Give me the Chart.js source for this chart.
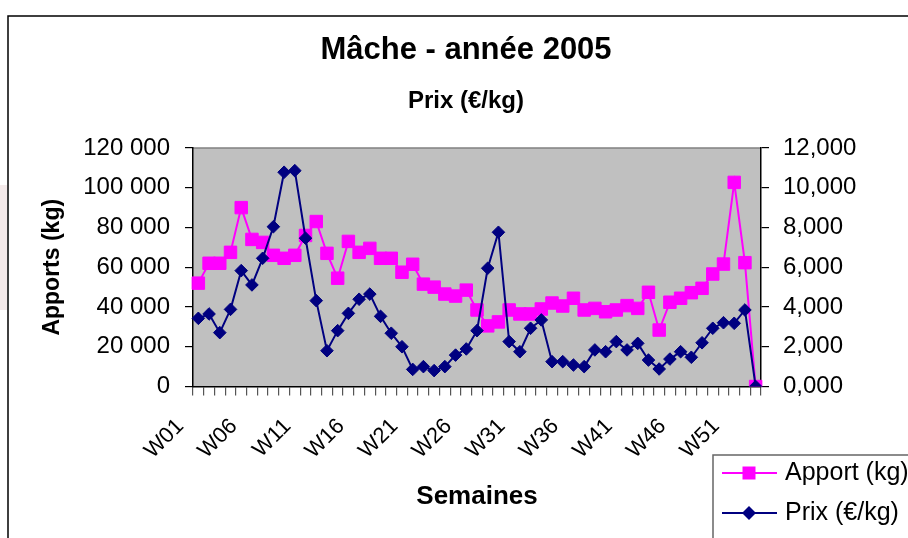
<!DOCTYPE html>
<html>
<head>
<meta charset="utf-8">
<script src="https://cdn.jsdelivr.net/npm/chart.js@4.4.0/dist/chart.umd.min.js"></script>
<style>
  html, body { margin: 0; padding: 0; background: #fff; }
  #wrap { width: 908px; height: 538px; }
</style>
</head>
<body>
<div id="wrap"><canvas id="chart" width="908" height="538"></canvas></div>
<script>
// ---- data ----
const weeks = [
  "W01", "W02", "W03", "W04", "W05", "W06", "W07", "W08", "W09", "W10",
  "W11", "W12", "W13", "W14", "W15", "W16", "W17", "W18", "W19", "W20",
  "W21", "W22", "W23", "W24", "W25", "W26", "W27", "W28", "W29", "W30",
  "W31", "W32", "W33", "W34", "W35", "W36", "W37", "W38", "W39", "W40",
  "W41", "W42", "W43", "W44", "W45", "W46", "W47", "W48", "W49", "W50",
  "W51", "W52", "W53"
];

// Apport (kg)
const apport = [
  52000, 62000, 62000, 67500, 90000, 74000, 72500, 66000, 64500, 66000,
  76000, 83000, 67000, 54500, 73000, 67500, 69500, 64500, 64500, 57500,
  61500, 51500, 50000, 46500, 45500, 48500, 38500, 30500, 32500, 38500,
  36500, 36500, 39000, 42000, 40500, 44400, 38500, 39300, 37600, 38500,
  40700, 39300, 47400, 28400, 42400, 44400, 47200, 49400, 56600, 61600,
  102700, 62300, 0
];

// Prix (€/kg)
const prix = [
  3.43, 3.65, 2.71, 3.88, 5.83, 5.11, 6.45, 8.04, 10.78, 10.86,
  7.46, 4.32, 1.80, 2.81, 3.68, 4.39, 4.65, 3.53, 2.68, 2.00,
  0.86, 1.00, 0.80, 1.00, 1.58, 1.89, 2.81, 5.95, 7.76, 2.26,
  1.75, 2.93, 3.35, 1.25, 1.25, 1.08, 1.00, 1.84, 1.75, 2.26,
  1.84, 2.17, 1.33, 0.88, 1.38, 1.75, 1.47, 2.20, 2.93, 3.21,
  3.18, 3.85, 0
];

const apportTicks = [0, 20000, 40000, 60000, 80000, 100000, 120000];
const prixTicks = [0, 2, 4, 6, 8, 10, 12];

const FONT = "'Liberation Sans', Arial, sans-serif";
const PINK = "#ff00ff";
const NAVY = "#000080";

// ---- plugins ----
// fond blanc, cadre extérieur et zone de traçage grise
const background = {
  id: "background",
  beforeDraw(chart) {
    const { ctx, chartArea: a } = chart;
    ctx.save();
    ctx.fillStyle = "#fff";
    ctx.fillRect(0, 0, chart.width, chart.height);
    // petite ombre rosée sur le bord gauche
    ctx.fillStyle = "#f4eaea";
    ctx.fillRect(0, 185, 7, 125);
    ctx.strokeStyle = "#000";
    ctx.lineWidth = 1.5;
    ctx.beginPath();
    ctx.moveTo(8, chart.height + 5);
    ctx.lineTo(8, 16);
    ctx.lineTo(chart.width + 5, 16);
    ctx.stroke();
    ctx.fillStyle = "#c0c0c0";
    ctx.fillRect(a.left, a.top, a.right - a.left, a.bottom - a.top);
    ctx.strokeStyle = "#808080";
    ctx.lineWidth = 1.5;
    ctx.beginPath();
    ctx.moveTo(a.left, a.top);
    ctx.lineTo(a.right, a.top);
    ctx.stroke();
    ctx.restore();
  }
};

// légende en bas à droite, comme dans Excel
const boxLegend = {
  id: "boxLegend",
  afterDraw(chart) {
    const { ctx } = chart;
    const x0 = 713, y0 = 455;
    ctx.save();
    ctx.fillStyle = "#fff";
    ctx.fillRect(x0, y0, 220, 100);
    ctx.strokeStyle = "#666";
    ctx.lineWidth = 1.5;
    ctx.strokeRect(x0, y0, 220, 100);

    const rows = [
      { ds: chart.data.datasets[1], y: 473 },
      { ds: chart.data.datasets[0], y: 513 }
    ];
    rows.forEach(r => {
      ctx.strokeStyle = r.ds.borderColor;
      ctx.lineWidth = 2;
      ctx.beginPath();
      ctx.moveTo(722, r.y);
      ctx.lineTo(777, r.y);
      ctx.stroke();
      ctx.fillStyle = r.ds.backgroundColor;
      ctx.beginPath();
      if (r.ds.pointStyle === "rect") {
        ctx.rect(749 - 6.5, r.y - 6.5, 13, 13);
      } else {
        ctx.moveTo(749, r.y - 7);
        ctx.lineTo(756, r.y);
        ctx.lineTo(749, r.y + 7);
        ctx.lineTo(742, r.y);
        ctx.closePath();
      }
      ctx.fill();
      ctx.fillStyle = "#000";
      ctx.font = "25px " + FONT;
      ctx.textAlign = "left";
      ctx.textBaseline = "middle";
      ctx.fillText(r.ds.label, 785, r.y);
    });
    ctx.restore();
  }
};

// ---- chart ----
const ctx = document.getElementById("chart").getContext("2d");

new Chart(ctx, {
  type: "line",
  data: {
    labels: weeks,
    datasets: [
      {
        label: "Prix (€/kg)",
        data: prix,
        yAxisID: "y1",
        borderColor: NAVY,
        backgroundColor: NAVY,
        borderWidth: 2,
        pointStyle: "rectRot",
        pointRadius: 6.3,
        pointBorderWidth: 1,
        pointBorderColor: NAVY,
        tension: 0,
        order: 0
      },
      {
        label: "Apport (kg)",
        data: apport,
        yAxisID: "y",
        borderColor: PINK,
        backgroundColor: PINK,
        borderWidth: 2,
        pointStyle: "rect",
        pointRadius: 8.8,
        pointBorderWidth: 1,
        pointBorderColor: PINK,
        tension: 0,
        order: 1
      }
    ]
  },
  options: {
    responsive: false,
    animation: false,
    layout: { padding: { left: 24, right: 0, top: 0, bottom: 0 } },
    plugins: {
      legend: { display: false },
      tooltip: { enabled: false },
      title: {
        display: true,
        text: "Mâche - année 2005",
        color: "#000",
        font: { family: FONT, size: 31, weight: "bold", lineHeight: 1.2 },
        padding: { top: 31.4, bottom: 18 }
      },
      subtitle: {
        display: true,
        text: "Prix (€/kg)",
        color: "#000",
        font: { family: FONT, size: 24, weight: "bold", lineHeight: 1.2 },
        padding: { top: 0, bottom: 32.6 }
      }
    },
    scales: {
      x: {
        type: "category",
        offset: true,
        grid: {
          offset: true,
          drawOnChartArea: false,
          tickLength: 9,
          color: "#555",
          lineWidth: 1.2
        },
        border: { color: "#000", width: 1.5 },
        ticks: {
          autoSkip: false,
          maxRotation: 45,
          minRotation: 45,
          padding: 18,
          labelOffset: -18,
          color: "#000",
          font: { family: FONT, size: 22 },
          callback: (v, i) => (i % 5 === 0 ? weeks[i] : "")
        },
        title: {
          display: true,
          text: "Semaines",
          color: "#000",
          font: { family: FONT, size: 26, weight: "bold", lineHeight: 1.2 },
          padding: { top: 0, bottom: 25.4 }
        },
        afterFit(s) { s.height = 151.5; }
      },
      y: {
        position: "left",
        min: 0,
        max: 120000,
        afterBuildTicks(s) { s.ticks = apportTicks.map(v => ({ value: v })); },
        grid: { drawOnChartArea: false, tickLength: 8, color: "#000", lineWidth: 1.2 },
        border: { color: "#000", width: 1.5 },
        ticks: {
          padding: 15,
          color: "#000",
          font: { family: FONT, size: 24 },
          callback: v => (v === 0 ? "0" : (v / 1000) + " 000")
        },
        title: {
          display: true,
          text: "Apports (kg)",
          color: "#000",
          font: { family: FONT, size: 23, weight: "bold", lineHeight: 1.2 },
          padding: { top: 15, bottom: 0 }
        },
        afterFit(s) { s.width = 169; }
      },
      y1: {
        position: "right",
        min: 0,
        max: 12,
        afterBuildTicks(s) { s.ticks = prixTicks.map(v => ({ value: v })); },
        grid: { drawOnChartArea: false, tickLength: 8, color: "#000", lineWidth: 1.2 },
        border: { color: "#000", width: 1.5 },
        ticks: {
          padding: 14,
          color: "#000",
          font: { family: FONT, size: 24 },
          callback: v => v.toFixed(3).replace(".", ",")
        },
        afterFit(s) { s.width = 147; }
      }
    }
  },
  plugins: [background, boxLegend]
});
</script>
</body>
</html>
